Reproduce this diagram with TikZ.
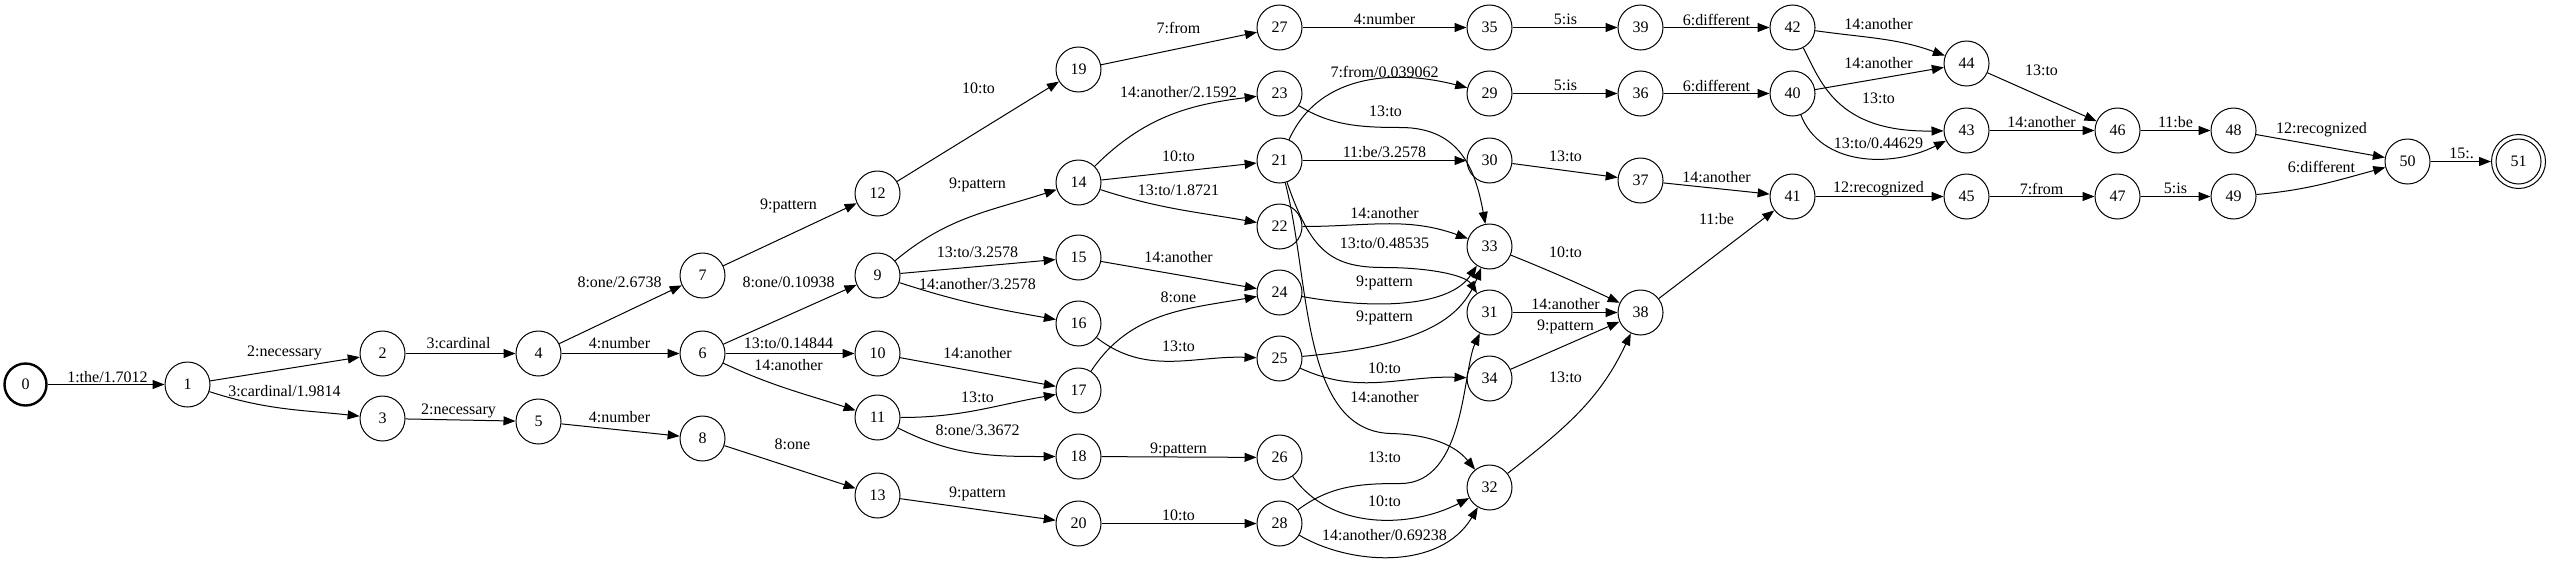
\documentclass[tikz,border=0pt]{standalone}
\usepackage{fontspec}
\setmainfont{Liberation Serif}
\usetikzlibrary{arrows.meta}
\newcommand{\lblfont}{\fontsize{16}{19}\selectfont}
\tikzset{
 st/.style={circle, draw, line width=1pt, minimum size=45pt, inner sep=0pt, font=\lblfont},
 lbl/.style={inner sep=0pt, font=\lblfont},
 e/.style={draw, line width=1pt, -{Triangle[length=12pt,width=9pt]}},
}
\begin{document}
\begin{tikzpicture}[x=1pt,y=-1pt]
\useasboundingbox (0,0) rectangle (2550,565);
\begin{scope}[shift={(0.5,0.5)}]
% states
\node[st, line width=2.4pt, minimum size=42pt] (n0) at (25,384) {0};
\node[st] (n1) at (187,384) {1};
\node[st] (n2) at (382,353) {2};
\node[st] (n3) at (382,418) {3};
\node[st] (n4) at (538,353) {4};
\node[st] (n5) at (538,421) {5};
\node[st] (n6) at (702,353) {6};
\node[st] (n7) at (702,275) {7};
\node[st] (n8) at (702,438) {8};
\node[st] (n9) at (877,275) {9};
\node[st] (n10) at (877,353) {10};
\node[st] (n11) at (877,417) {11};
\node[st] (n12) at (877,193) {12};
\node[st] (n13) at (877,495) {13};
\node[st] (n14) at (1078,182) {14};
\node[st] (n15) at (1078,257) {15};
\node[st] (n16) at (1078,323) {16};
\node[st] (n17) at (1078,390) {17};
\node[st] (n18) at (1078,456) {18};
\node[st] (n19) at (1078,69) {19};
\node[st] (n20) at (1078,523) {20};
\node[st] (n21) at (1279,160) {21};
\node[st] (n22) at (1279,226) {22};
\node[st] (n23) at (1279,93) {23};
\node[st] (n24) at (1279,292) {24};
\node[st] (n25) at (1279,358) {25};
\node[st] (n26) at (1279,457) {26};
\node[st] (n27) at (1279,27) {27};
\node[st] (n28) at (1279,523) {28};
\node[st] (n29) at (1489,93) {29};
\node[st] (n30) at (1489,160) {30};
\node[st] (n31) at (1489,312) {31};
\node[st] (n32) at (1489,487) {32};
\node[st] (n33) at (1489,246) {33};
\node[st] (n34) at (1489,378) {34};
\node[st] (n35) at (1489,27) {35};
\node[st] (n36) at (1640,93) {36};
\node[st] (n37) at (1640,180) {37};
\node[st] (n38) at (1640,312) {38};
\node[st] (n39) at (1640,27) {39};
\node[st] (n40) at (1792,93) {40};
\node[st] (n41) at (1792,196) {41};
\node[st] (n42) at (1792,27) {42};
\node[st] (n43) at (1966,130) {43};
\node[st] (n44) at (1966,63) {44};
\node[st] (n45) at (1966,196) {45};
\node[st] (n46) at (2117,130) {46};
\node[st] (n47) at (2117,196) {47};
\node[st] (n48) at (2233,130) {48};
\node[st] (n49) at (2233,196) {49};
\node[st] (n50) at (2407,161) {50};
\node[st, minimum size=54pt] (n51) at (2518,161) {51};
\draw[line width=1pt] (n51.center) circle (22.5pt);
% edges
\draw[e] (n0) -- (n1);
\draw[e] (n1) -- (n2);
\draw[e] (n1) to[out=-18,in=174] (n3);
\draw[e] (n2) -- (n4);
\draw[e] (n3) -- (n5);
\draw[e] (n4) -- (n6);
\draw[e] (n4) -- (n7);
\draw[e] (n5) -- (n8);
\draw[e] (n6) -- (n9);
\draw[e] (n6) -- (n10);
\draw[e] (n6) to[out=-25,in=162] (n11);
\draw[e] (n7) -- (n12);
\draw[e] (n8) -- (n13);
\draw[e] (n9) to[out=40,in=198] (n14);
\draw[e] (n9) -- (n15);
\draw[e] (n9) to[out=-18,in=170] (n16);
\draw[e] (n10) -- (n17);
\draw[e] (n11) to[out=0,in=190] (n17);
\draw[e] (n11) to[out=-27,in=180] (n18);
\draw[e] (n12) -- (n19);
\draw[e] (n13) -- (n20);
\draw[e] (n14) to[out=45,in=187] (n23);
\draw[e] (n14) -- (n21);
\draw[e] (n14) to[out=-18,in=170] (n22);
\draw[e] (n15) -- (n24);
\draw[e] (n16) to[out=-38,in=178] (n25);
\draw[e] (n17) to[out=57,in=190] (n24);
\draw[e] (n18) -- (n26);
\draw[e] (n19) -- (n27);
\draw[e] (n20) -- (n28);
\draw[e] (n21) .. controls (1320,70) and (1400,70) .. (n29);
\draw[e] (n21) -- (n30);
\draw[e] (n23) .. controls (1330,125) and (1360,127) .. (1400,127) .. controls (1460,127) and (1475,170) .. (n33);
\draw[e] (n22) to[out=0,in=160] (n33);
\draw[e] (n21) .. controls (1310,250) and (1330,267) .. (1383,267) .. controls (1430,267) and (1465,275) .. (n31);
\draw[e] (n24) .. controls (1380,310) and (1450,305) .. (n33);
\draw[e] (n25) .. controls (1420,345) and (1460,320) .. (n33);
\draw[e] (n25) to[out=-25,in=178] (n34);
\draw[e] (n21) .. controls (1310,280) and (1300,430) .. (1390,433) .. controls (1430,434) and (1455,445) .. (n32);
\draw[e] (n28) .. controls (1330,485) and (1360,483) .. (1400,483) .. controls (1465,483) and (1462,370) .. (n31);
\draw[e] (n26) .. controls (1330,530) and (1410,528) .. (n32);
\draw[e] (n28) .. controls (1350,565) and (1440,570) .. (n32);
\draw[e] (n32) to[out=38,in=245] (n38);
\draw[e] (n33) to[out=-22,in=155] (n38);
\draw[e] (n31) -- (n38);
\draw[e] (n34) -- (n38);
\draw[e] (n27) -- (n35);
\draw[e] (n29) -- (n36);
\draw[e] (n30) -- (n37);
\draw[e] (n35) -- (n39);
\draw[e] (n39) -- (n42);
\draw[e] (n36) -- (n40);
\draw[e] (n37) -- (n41);
\draw[e] (n38) -- (n41);
\draw[e] (n41) -- (n45);
\draw[e] (n42) to[out=-8,in=160] (n44);
\draw[e] (n40) -- (n44);
\draw[e] (n42) .. controls (1820,80) and (1835,132) .. (n43);
\draw[e] (n40) .. controls (1820,165) and (1890,168) .. (n43);
\draw[e] (n44) -- (n46);
\draw[e] (n43) -- (n46);
\draw[e] (n45) -- (n47);
\draw[e] (n46) -- (n48);
\draw[e] (n47) -- (n49);
\draw[e] (n48) -- (n50);
\draw[e] (n49) to[out=5,in=195] (n50);
\draw[e] (n50) -- (n51);
% labels
\node[lbl] (l0-1) at (107,377) {1:the/1.7012};
\node[lbl] (l1-2) at (284,352) {2:necessary};
\node[lbl] (l1-3) at (284,391) {3:cardinal/1.9814};
\node[lbl] (l2-4) at (458,343) {3:cardinal};
\node[lbl] (l3-5) at (458,410) {2:necessary};
\node[lbl] (l4-6) at (619,343) {4:number};
\node[lbl] (l5-8) at (619,417) {4:number};
\node[lbl] (l4-7) at (619,282) {8:one/2.6738};
\node[lbl] (l6-10) at (788,343) {13:to/0.14844};
\node[lbl] (l6-11) at (788,365) {14:another};
\node[lbl] (l8-13) at (792,444) {8:one};
\node[lbl] (l7-12) at (788,205) {9:pattern};
\node[lbl] (l6-9) at (788,282) {8:one/0.10938};
\node[lbl] (l12-19) at (978,88) {10:to};
\node[lbl] (l9-14) at (977,184) {9:pattern};
\node[lbl] (l9-15) at (977,252) {13:to/3.2578};
\node[lbl] (l9-16) at (977,284) {14:another/3.2578};
\node[lbl] (l10-17) at (977,353) {14:another};
\node[lbl] (l11-17) at (977,397) {13:to};
\node[lbl] (l11-18) at (977,430) {8:one/3.3672};
\node[lbl] (l13-20) at (977,493) {9:pattern};
\node[lbl] (l19-27) at (1178,27) {7:from};
\node[lbl] (l14-23) at (1178,92) {14:another/2.1592};
\node[lbl] (l14-21) at (1178,156) {10:to};
\node[lbl] (l14-22) at (1178,190) {13:to/1.8721};
\node[lbl] (l15-24) at (1178,257) {14:another};
\node[lbl] (l17-24) at (1178,297) {8:one};
\node[lbl] (l16-25) at (1178,346) {13:to};
\node[lbl] (l18-26) at (1178,449) {9:pattern};
\node[lbl] (l20-28) at (1178,515) {10:to};
\node[lbl] (l27-35) at (1384,19) {4:number};
\node[lbl] (l21-29) at (1384,71) {7:from/0.039062};
\node[lbl] (l23-33) at (1385,111) {13:to};
\node[lbl] (l21-30) at (1384,152) {11:be/3.2578};
\node[lbl] (l22-33) at (1384,213) {14:another};
\node[lbl] (l21-31) at (1384,243) {13:to/0.48535};
\node[lbl] (l24-33) at (1384,282) {9:pattern};
\node[lbl] (l25-33) at (1384,317) {9:pattern};
\node[lbl] (l25-34) at (1384,368) {10:to};
\node[lbl] (l21-32) at (1384,397) {14:another};
\node[lbl] (l28-31) at (1384,457) {13:to};
\node[lbl] (l26-32) at (1384,501) {10:to};
\node[lbl] (l28-32) at (1384,535) {14:another/0.69238};
\node[lbl] (l35-39) at (1565,19) {5:is};
\node[lbl] (l29-36) at (1565,85) {5:is};
\node[lbl] (l30-37) at (1565,156) {13:to};
\node[lbl] (l33-38) at (1565,252) {10:to};
\node[lbl] (l31-38) at (1565,304) {14:another};
\node[lbl] (l34-38) at (1565,326) {9:pattern};
\node[lbl] (l32-38) at (1565,377) {13:to};
\node[lbl] (l39-42) at (1716,19) {6:different};
\node[lbl] (l36-40) at (1716,85) {6:different};
\node[lbl] (l37-41) at (1716,177) {14:another};
\node[lbl] (l38-41) at (1716,219) {11:be};
\node[lbl] (l42-44) at (1878,24) {14:another};
\node[lbl] (l40-44) at (1878,63) {14:another};
\node[lbl] (l42-43) at (1878,98) {13:to};
\node[lbl] (l40-43) at (1878,143) {13:to/0.44629};
\node[lbl] (l41-45) at (1878,188) {12:recognized};
\node[lbl] (l44-46) at (2041,70) {13:to};
\node[lbl] (l43-46) at (2041,122) {14:another};
\node[lbl] (l45-47) at (2041,188) {7:from};
\node[lbl] (l46-48) at (2175,122) {11:be};
\node[lbl] (l47-49) at (2175,188) {5:is};
\node[lbl] (l48-50) at (2321,129) {12:recognized};
\node[lbl] (l49-50) at (2321,166) {6:different};
\node[lbl] (l50-51) at (2461,153) {15:.};
\end{scope}
\end{tikzpicture}
\end{document}
